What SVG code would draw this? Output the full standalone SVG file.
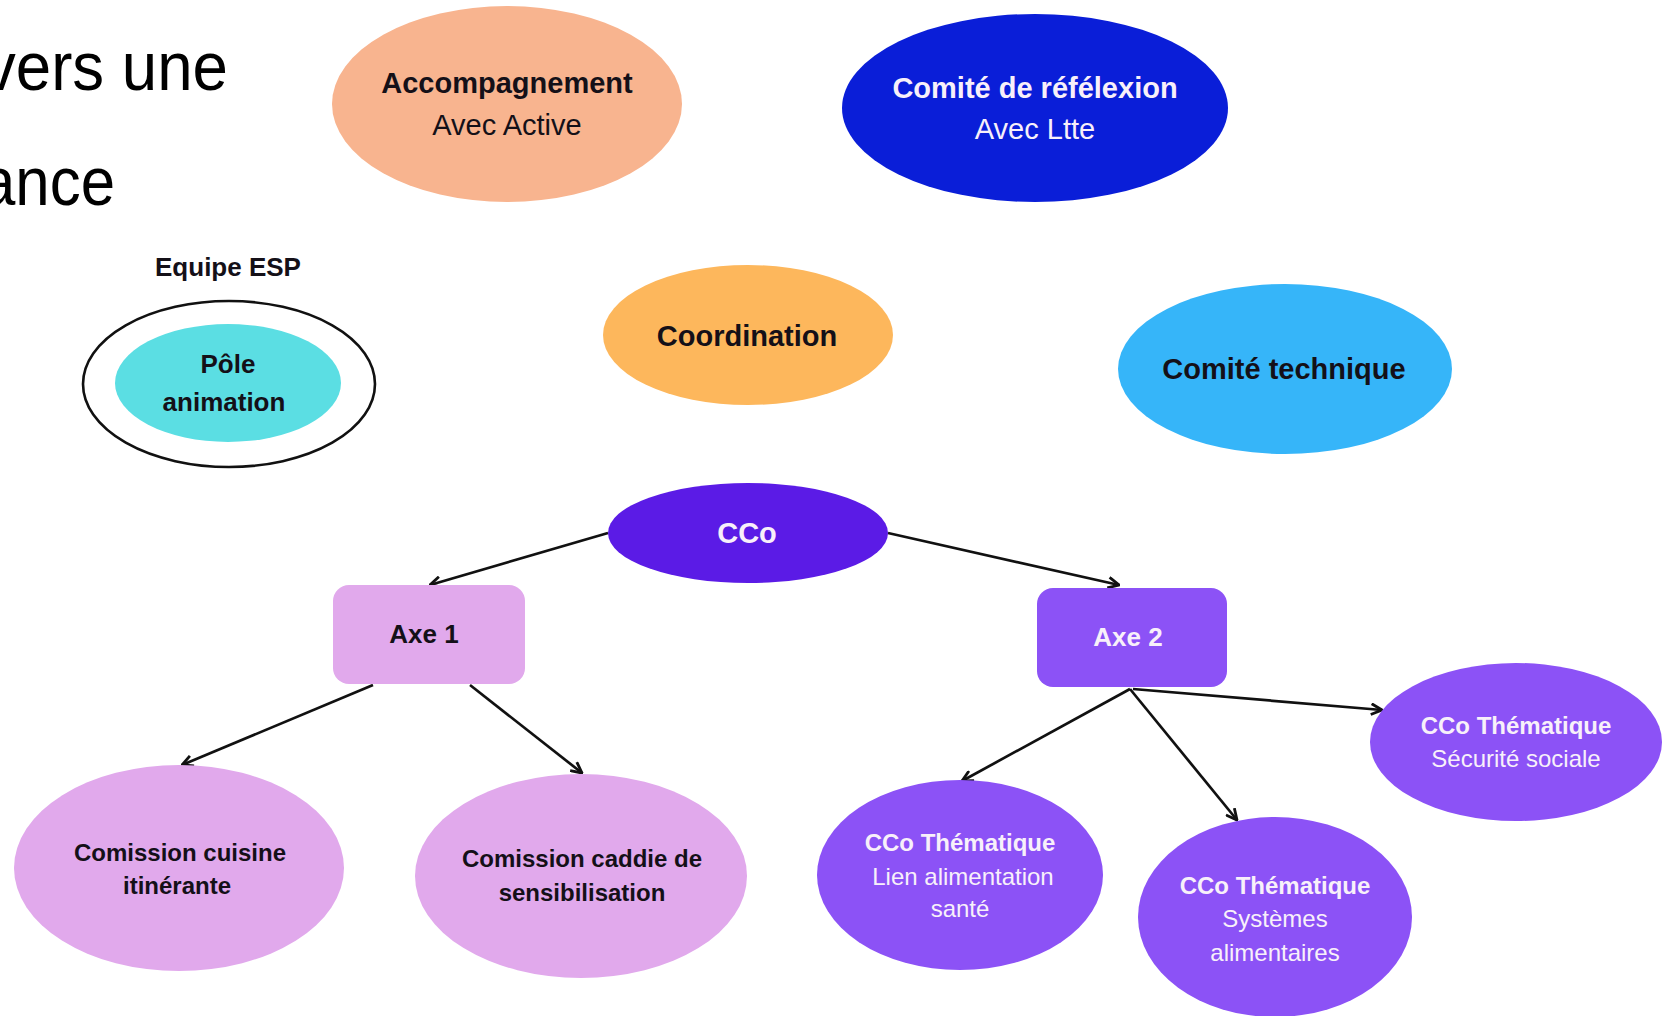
<svg xmlns="http://www.w3.org/2000/svg" width="1671" height="1016" viewBox="0 0 1671 1016">
<defs>
<style>
text{font-family:"Liberation Sans",Arial,sans-serif;text-anchor:middle}
.b{font-weight:bold}
.dk{fill:#141018}
.wt{fill:#f8f0fa}
.big{font-size:29px}
.mid{font-size:26px}
.sm{font-size:24px}
.title{font-size:69px;fill:#000;text-anchor:start}
.edge{stroke:#111;stroke-width:2.7;fill:none;marker-end:url(#arr)}
</style>
<marker id="arr" viewBox="0 0 12 12" refX="11" refY="6" markerWidth="13" markerHeight="13" markerUnits="userSpaceOnUse" orient="auto">
<path d="M1,1 L11,6 L1,11" fill="none" stroke="#111" stroke-width="2.6" stroke-linejoin="miter"/>
</marker>
</defs>
<rect width="1671" height="1016" fill="#fff"/>

<g id="title">
<text class="title" x="-16" y="90" textLength="244" lengthAdjust="spacingAndGlyphs">vers une</text>
<text class="title" x="-19" y="205" textLength="134" lengthAdjust="spacingAndGlyphs">ance</text>
</g>

<g id="connectors">
<line class="edge" x1="608" y1="533" x2="430" y2="585"/>
<line class="edge" x1="888" y1="533" x2="1119" y2="585"/>
<line class="edge" x1="373" y1="685" x2="182" y2="765"/>
<line class="edge" x1="470" y1="685" x2="582" y2="773"/>
<line class="edge" x1="1130" y1="689" x2="962" y2="781"/>
<line class="edge" x1="1130" y1="689" x2="1237" y2="820"/>
<line class="edge" x1="1133" y1="689" x2="1382" y2="710"/>
</g>

<g id="accompagnement">
<ellipse cx="507" cy="104" rx="175" ry="98" fill="#f8b48f"/>
<text class="b big dk" x="507" y="93">Accompagnement</text>
<text class="big dk" x="507" y="135">Avec Active</text>
</g>

<g id="comite-reflexion">
<ellipse cx="1035" cy="108" rx="193" ry="94" fill="#0a1ed8"/>
<text class="b big wt" x="1035" y="98">Comité de réfélexion</text>
<text class="big wt" x="1035" y="139">Avec Ltte</text>
</g>

<g id="equipe-esp">
<text class="b mid dk" x="228" y="276">Equipe ESP</text>
<ellipse cx="229" cy="384" rx="146" ry="83" fill="#fff" stroke="#111" stroke-width="2.6"/>
</g>

<g id="pole-animation">
<ellipse cx="228" cy="383" rx="113" ry="59" fill="#5bdee3"/>
<text class="b mid dk" x="228" y="373">Pôle</text>
<text class="b mid dk" x="224" y="411">animation</text>
</g>

<g id="coordination">
<ellipse cx="748" cy="335" rx="145" ry="70" fill="#fdb75c"/>
<text class="b big dk" x="747" y="346">Coordination</text>
</g>

<g id="comite-technique">
<ellipse cx="1285" cy="369" rx="167" ry="85" fill="#36b5f9"/>
<text class="b big dk" x="1284" y="379">Comité technique</text>
</g>

<g id="cco">
<ellipse cx="748" cy="533" rx="140" ry="50" fill="#5b1be6"/>
<text class="b big wt" x="747" y="543">CCo</text>
</g>

<g id="axe1">
<rect x="333" y="585" width="192" height="99" rx="16" fill="#e1a9ec"/>
<text class="b mid dk" x="424" y="643">Axe 1</text>
</g>

<g id="axe2">
<rect x="1037" y="588" width="190" height="99" rx="16" fill="#8c52f6"/>
<text class="b mid wt" x="1128" y="646">Axe 2</text>
</g>

<g id="cuisine">
<ellipse cx="179" cy="868" rx="165" ry="103" fill="#e1a9ec"/>
<text class="b sm dk" x="180" y="861">Comission cuisine</text>
<text class="b sm dk" x="177" y="894">itinérante</text>
</g>

<g id="caddie">
<ellipse cx="581" cy="876" rx="166" ry="102" fill="#e1a9ec"/>
<text class="b sm dk" x="582" y="867">Comission caddie de</text>
<text class="b sm dk" x="582" y="901">sensibilisation</text>
</g>

<g id="lien-sante">
<ellipse cx="960" cy="875" rx="143" ry="95" fill="#8c52f6"/>
<text class="b sm wt" x="960" y="851">CCo Thématique</text>
<text class="sm wt" x="963" y="885">Lien alimentation</text>
<text class="sm wt" x="960" y="917">santé</text>
</g>

<g id="systemes">
<ellipse cx="1275" cy="917" rx="137" ry="100" fill="#8c52f6"/>
<text class="b sm wt" x="1275" y="894">CCo Thématique</text>
<text class="sm wt" x="1275" y="927">Systèmes</text>
<text class="sm wt" x="1275" y="961">alimentaires</text>
</g>

<g id="securite">
<ellipse cx="1516" cy="742" rx="146" ry="79" fill="#8c52f6"/>
<text class="b sm wt" x="1516" y="734">CCo Thématique</text>
<text class="sm wt" x="1516" y="767">Sécurité sociale</text>
</g>
</svg>
